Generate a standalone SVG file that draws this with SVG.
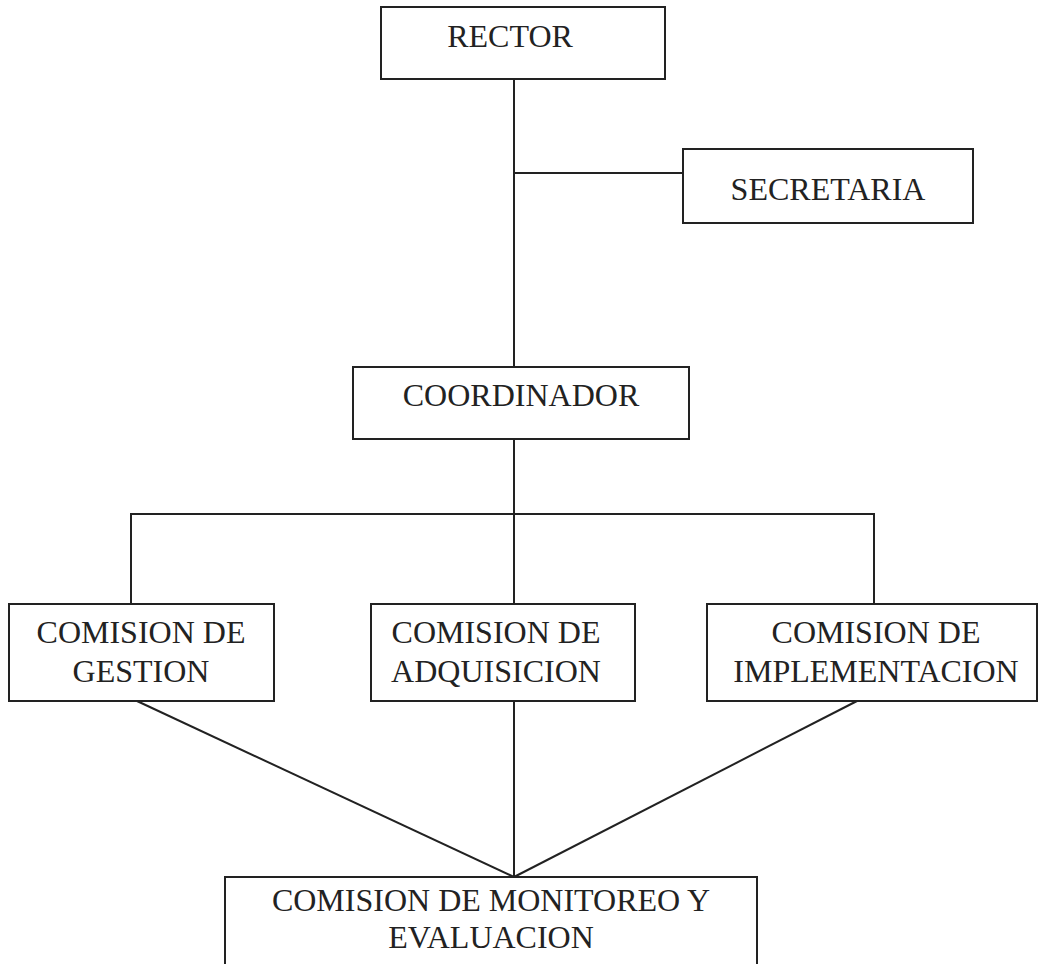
<svg xmlns="http://www.w3.org/2000/svg" width="1040" height="964" viewBox="0 0 1040 964">
<style>
.box{fill:#fff;stroke:#222;stroke-width:2}
.ln{fill:none;stroke:#222;stroke-width:2}
text{font-family:"Liberation Serif","Times New Roman",serif;font-size:32px;fill:#222;text-anchor:middle}
</style>
<rect width="1040" height="964" fill="#fff"/>
<g id="connectors">
<line class="ln" x1="514" y1="80" x2="514" y2="367"/>
<line class="ln" x1="514" y1="173" x2="683" y2="173"/>
<line class="ln" x1="514" y1="439" x2="514" y2="604"/>
<polyline class="ln" points="131,604 131,514 874,514 874,604"/>
<line class="ln" x1="137" y1="701" x2="514" y2="877"/>
<line class="ln" x1="514" y1="701" x2="514" y2="877"/>
<line class="ln" x1="857" y1="701" x2="514" y2="877"/>
</g>
<g id="rector">
<rect class="box" x="381" y="7" width="284" height="72"/>
<text x="510" y="47">RECTOR</text>
</g>
<g id="secretaria">
<rect class="box" x="683" y="149" width="290" height="74"/>
<text x="828" y="200">SECRETARIA</text>
</g>
<g id="coordinador">
<rect class="box" x="353" y="367" width="336" height="72"/>
<text x="521" y="406">COORDINADOR</text>
</g>
<g id="gestion">
<rect class="box" x="9" y="604" width="265" height="97"/>
<text x="141" y="643">COMISION DE</text>
<text x="141" y="682">GESTION</text>
</g>
<g id="adquisicion">
<rect class="box" x="371" y="604" width="264" height="97"/>
<text x="496" y="643">COMISION DE</text>
<text x="496" y="682">ADQUISICION</text>
</g>
<g id="implementacion">
<rect class="box" x="707" y="604" width="330" height="97"/>
<text x="876" y="643">COMISION DE</text>
<text x="876" y="682">IMPLEMENTACION</text>
</g>
<g id="monitoreo">
<rect class="box" x="225" y="877" width="532" height="100"/>
<text x="491" y="911">COMISION DE MONITOREO Y</text>
<text x="491" y="948">EVALUACION</text>
</g>
</svg>
